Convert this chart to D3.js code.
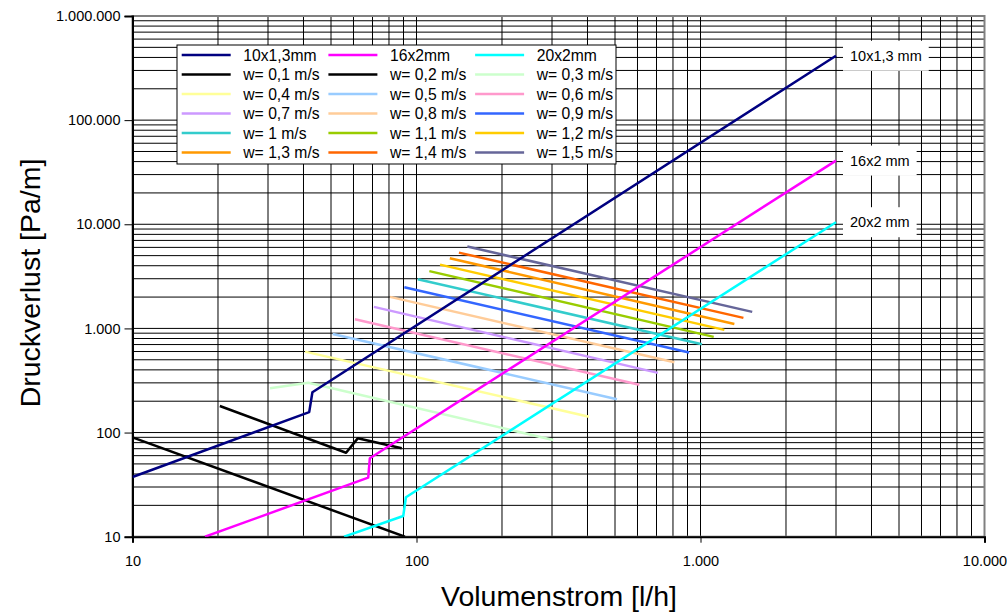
<!DOCTYPE html>
<html>
<head>
<meta charset="utf-8">
<script src="https://cdn.jsdelivr.net/npm/d3@7/dist/d3.min.js"></script>
<style>
  html, body { margin: 0; padding: 0; background: #fff; }
  svg { display: block; font-family: "Liberation Sans", Arial, sans-serif; }
</style>
</head>
<body>
<svg id="chart" width="1007" height="614"></svg>
<script>
// ---------- DATA ----------
const xTickValues = [10, 100, 1000, 10000];
const yTickValues = [10, 100, 1000, 10000, 100000, 1000000];

const pipeNames = ["10x1,3mm", "16x2mm", "20x2mm"];
const pipeEndLabels = ["10x1,3 mm", "16x2 mm", "20x2 mm"];
const pipeColors = ["#000080", "#FF00FF", "#00FFFF"];
const pipe10x13 = [[10, 37.4], [41.9, 157], [43, 244], [3000, 415000]];
const pipe16x2 = [[18, 10], [67.6, 36.9], [68.5, 56.6], [3000, 40900]];
const pipe20x2 = [[55.6, 10], [89.8, 15.8], [91.8, 23.9], [3000, 10470]];

const wNames = ["w= 0,1 m/s", "w= 0,2 m/s", "w= 0,3 m/s", "w= 0,4 m/s", "w= 0,5 m/s",
  "w= 0,6 m/s", "w= 0,7 m/s", "w= 0,8 m/s", "w= 0,9 m/s", "w= 1 m/s",
  "w= 1,1 m/s", "w= 1,2 m/s", "w= 1,3 m/s", "w= 1,4 m/s", "w= 1,5 m/s"];
const wColors = ["#000000", "#000000", "#CCFFCC", "#FFFF99", "#99CCFF",
  "#FF99CC", "#CC99FF", "#FFCC99", "#3366FF", "#33CCCC",
  "#99CC00", "#FFCC00", "#FF9900", "#FF6600", "#666699"];
const w01 = [[10, 90], [91, 10]];
const w02 = [[20.3, 180], [56.5, 64], [62.1, 88], [88.7, 70.6]];
const w03 = [[30.5, 267], [41.6, 301], [303, 85]];
const w04 = [[40.5, 599], [405, 142]];
const w05 = [[50.7, 885], [508, 209]];
const w06 = [[60.7, 1225], [609, 288]];
const w07 = [[70.8, 1610], [708, 374]];
const w08 = [[80.7, 2010], [809, 473]];
const w09 = [[90.6, 2490], [912, 586]];
const w10 = [[101, 2970], [1012, 705]];
const w11 = [[111, 3550], [1113, 829]];
const w12 = [[121, 4100], [1213, 968]];
const w13 = [[131, 4720], [1316, 1104]];
const w14 = [[141, 5346], [1416, 1262]];
const w15 = [[151, 6110], [1521, 1442]];

const xTitle = "Volumenstrom [l/h]";
const yTitle = "Druckverlust [Pa/m]";

// ---------- SERIES TABLE ----------
const pipeSeries = [pipe10x13, pipe16x2, pipe20x2].map((d, i) => ({
  name: pipeNames[i], color: pipeColors[i], data: d, label: pipeEndLabels[i] }));
const wSeries = [w01, w02, w03, w04, w05, w06, w07, w08, w09, w10, w11, w12, w13, w14, w15]
  .map((d, i) => ({ name: wNames[i], color: wColors[i], data: d }));
const legendSeries = pipeSeries.concat(wSeries);

// ---------- LAYOUT ----------
const L = 132.5, R = 984.5, T = 16, B = 536.7;
const svg = d3.select("#chart");
const x = d3.scaleLog().domain([10, 10000]).range([L, R]);
const y = d3.scaleLog().domain([10, 1000000]).range([B, T]);

const de = d3.formatLocale({ decimal: ",", thousands: ".", grouping: [3], currency: ["", ""] });
const fmt = de.format(",");

// minor + major grid values
function gridValues(lo, hi) {
  const v = [];
  for (let d = lo; d < hi; d *= 10) for (let k = 1; k <= 9; k++) v.push(d * k);
  v.push(hi);
  return v;
}
const gx = gridValues(10, 10000);
const gy = gridValues(10, 1000000);

const grid = svg.append("g");
grid.selectAll("line.gx").data(gx).join("line")
  .attr("x1", d => x(d)).attr("x2", d => x(d)).attr("y1", T).attr("y2", B)
  .attr("stroke", "#000").attr("stroke-width", 1);
grid.selectAll("line.gy").data(gy).join("line")
  .attr("y1", d => y(d)).attr("y2", d => y(d)).attr("x1", L).attr("x2", R)
  .attr("stroke", "#000").attr("stroke-width", 1);

// frame (top/right grey)
svg.append("rect").attr("x", L).attr("y", T).attr("width", R - L).attr("height", B - T)
  .attr("fill", "none").attr("stroke", "#808080").attr("stroke-width", 2);

// axes
const xAxis = d3.axisBottom(x).tickValues(xTickValues).tickFormat(fmt).tickSize(6).tickPadding(13);
const yAxis = d3.axisLeft(y).tickValues(yTickValues).tickFormat(fmt).tickSize(8).tickPadding(4);
const gxA = svg.append("g").attr("transform", `translate(0,${B})`).call(xAxis);
const gyA = svg.append("g").attr("transform", `translate(${L},0)`).call(yAxis);
[gxA, gyA].forEach(g => {
  g.select(".domain").attr("stroke", "#000").attr("stroke-width", 2);
  g.selectAll(".tick line").attr("stroke", "#000").attr("stroke-width", 1);
  g.selectAll(".tick text").attr("font-size", 14.5).attr("fill", "#000")
    .attr("font-family", "Liberation Sans, Arial, sans-serif");
});

// clip
svg.append("clipPath").attr("id", "clip").append("rect")
  .attr("x", L).attr("y", T).attr("width", R - L).attr("height", B - T);

const line = d3.line().x(d => x(d[0])).y(d => y(d[1]));
const plot = svg.append("g").attr("clip-path", "url(#clip)");

plot.selectAll("path.w").data(wSeries).join("path")
  .attr("d", d => line(d.data)).attr("fill", "none")
  .attr("stroke", d => d.color).attr("stroke-width", 2.5).attr("stroke-linejoin", "round");
plot.selectAll("path.p").data(pipeSeries).join("path")
  .attr("d", d => line(d.data)).attr("fill", "none")
  .attr("stroke", d => d.color).attr("stroke-width", 2.5).attr("stroke-linejoin", "round");

// end labels with white boxes
const lab = svg.append("g").selectAll("g").data(pipeSeries).join("g")
  .attr("transform", d => {
    const e = d.data[d.data.length - 1];
    return `translate(${x(e[0]) + 14},${y(e[1])})`;
  });
lab.append("text").text(d => d.label).attr("font-size", 14.5).attr("dy", "0.35em").attr("fill", "#000");
lab.each(function () {
  const g = d3.select(this);
  const bb = g.select("text").node().getBBox();
  g.insert("rect", "text").attr("x", bb.x - 7).attr("y", -15).attr("width", bb.width + 14)
    .attr("height", 30).attr("fill", "#fff");
});

// legend
const lg = svg.append("g");
lg.append("rect").attr("x", 177).attr("y", 45).attr("width", 439).attr("height", 119)
  .attr("fill", "#fff").attr("stroke", "#000").attr("stroke-width", 1);
const items = lg.selectAll("g.item").data(legendSeries).join("g")
  .attr("transform", (d, i) => `translate(${181.7 + (i % 3) * 146.7},${55 + Math.floor(i / 3) * 19.5})`);
items.append("line").attr("x1", 0).attr("x2", 49).attr("y1", 0).attr("y2", 0)
  .attr("stroke", d => d.color).attr("stroke-width", 2.5);
items.append("text").attr("x", 61.6).attr("dy", "0.35em").attr("font-size", 15.7)
  .attr("fill", "#000").text(d => d.name);

// titles
svg.append("text").attr("x", (L + R) / 2 + 0).attr("y", 596).attr("dy", "0.35em")
  .attr("text-anchor", "middle").attr("font-size", 28.5).attr("fill", "#000")
  .attr("transform", "translate(0,0)").text(xTitle).attr("x", 559);
svg.append("text").attr("transform", "translate(30,283) rotate(-90)").attr("dy", "0.35em")
  .attr("text-anchor", "middle").attr("font-size", 28.5).attr("fill", "#000").text(yTitle);
</script>
</body>
</html>
